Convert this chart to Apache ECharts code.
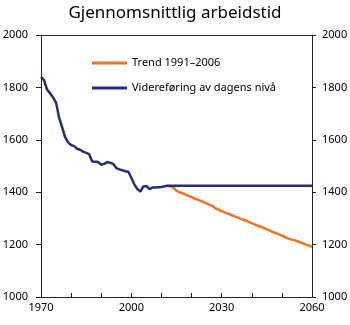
<!DOCTYPE html>
<html>
<head>
<meta charset="utf-8">
<script src="https://cdn.jsdelivr.net/npm/echarts@6/dist/echarts.min.js"></script>
<style>html,body{margin:0;padding:0;background:#fff}#c{width:350px;height:325px}</style>
</head>
<body>
<div id="c"></div>
<script>
const titleText = 'Gjennomsnittlig arbeidstid';
const seriesNames = ['Trend 1991–2006', 'Videreføring av dagens nivå'];
const xTickLabels = [1970, 2000, 2030, 2060];

// Videreføring av dagens nivå (history 1970–2012, then flat to 2060)
const histYears = [1970,1971,1972,1973,1974,1975,1976,1977,1978,1979,1980,1981,1982,1983,1984,1985,1986,1987,1988,1989,1990,1991,1992,1993,1994,1995,1996,1997,1998,1999,2000,2001,2002,2003,2004,2005,2006,2007,2008,2009,2010,2011,2012,2060];
const histValues = [1840,1828,1792,1778,1762,1742,1685,1648,1610,1590,1580,1576,1566,1562,1555,1550,1545,1517,1516,1515,1505,1508,1515,1512,1508,1492,1487,1484,1480,1478,1455,1430,1412,1402,1422,1424,1412,1418,1418,1419,1420,1423,1425,1425];

// Trend 1991–2006 projection
const trendYears = [2012,2013,2014,2015,2016,2017,2018,2019,2020,2021,2022,2023,2024,2025,2026,2027,2028,2029,2030,2031,2032,2033,2034,2035,2036,2037,2038,2039,2040,2041,2042,2043,2044,2045,2046,2047,2048,2049,2050,2051,2052,2053,2054,2055,2056,2057,2058,2059,2060];
const trendValues = [1425,1422,1418,1405,1400,1396,1391,1386,1381,1376,1372,1367,1362,1357,1352,1347,1338,1333,1328,1323,1319,1314,1309,1305,1300,1296,1292,1287,1282,1277,1272,1268,1263,1258,1253,1248,1244,1239,1234,1229,1224,1220,1217,1214,1209,1205,1200,1196,1192];

const FONT = 'Noto Sans';
const chart = echarts.init(document.getElementById('c'), null, {renderer: 'canvas'});
const axisColor = '#222';
chart.setOption({
  animation: false,
  backgroundColor: '#fff',
  title: {
    text: titleText, left: 'center', top: 0,
    textStyle: {fontFamily: FONT, fontSize: 17, fontWeight: 'normal', color: '#000'}
  },
  legend: {
    orient: 'vertical', left: 87, top: 51, itemGap: 11, padding: 5,
    icon: 'rect', itemWidth: 35, itemHeight: 3,
    textStyle: {fontFamily: FONT, fontSize: 11, color: '#000', lineHeight: 14},
    data: seriesNames
  },
  grid: {left: 41, right: 38, top: 35, bottom: 28, containLabel: false, outerBoundsMode: 'none'},
  xAxis: [{
    type: 'value', min: 1970, max: 2060, interval: 10,
    axisLine: {lineStyle: {color: axisColor, width: 1}},
    axisTick: {inside: true, length: 4, lineStyle: {color: axisColor}},
    splitLine: {show: false},
    axisLabel: {
      margin: 5, color: '#000', fontFamily: FONT, fontSize: 11,
      formatter: v => xTickLabels.indexOf(v) >= 0 ? String(v) : ''
    }
  }, {
    type: 'value', position: 'top', min: 1970, max: 2060,
    axisLine: {show: true, onZero: false, lineStyle: {color: axisColor, width: 1}},
    axisTick: {show: false}, axisLabel: {show: false}, splitLine: {show: false}
  }],
  yAxis: [{
    type: 'value', min: 1000, max: 2000, interval: 200, position: 'left',
    axisLine: {show: true, lineStyle: {color: axisColor}},
    axisTick: {show: true, length: 5, lineStyle: {color: axisColor}},
    splitLine: {show: false},
    axisLabel: {margin: 13, color: '#000', fontFamily: FONT, fontSize: 11, formatter: v => String(v)}
  }, {
    type: 'value', min: 1000, max: 2000, interval: 200, position: 'right',
    axisLine: {show: true, lineStyle: {color: axisColor}},
    axisTick: {show: true, length: 4, lineStyle: {color: axisColor}},
    splitLine: {show: false},
    axisLabel: {margin: 10, color: '#000', fontFamily: FONT, fontSize: 11, formatter: v => String(v)}
  }],
  series: [{
    name: seriesNames[0], type: 'line', symbol: 'none', z: 2,
    lineStyle: {color: '#f47321', width: 2.5}, itemStyle: {color: '#f47321'},
    data: trendYears.map((y, i) => [y, trendValues[i]])
  }, {
    name: seriesNames[1], type: 'line', symbol: 'none', z: 3,
    lineStyle: {color: '#272c7c', width: 2.5}, itemStyle: {color: '#272c7c'},
    data: histYears.map((y, i) => [y, histValues[i]])
  }]
});
</script>
</body>
</html>
